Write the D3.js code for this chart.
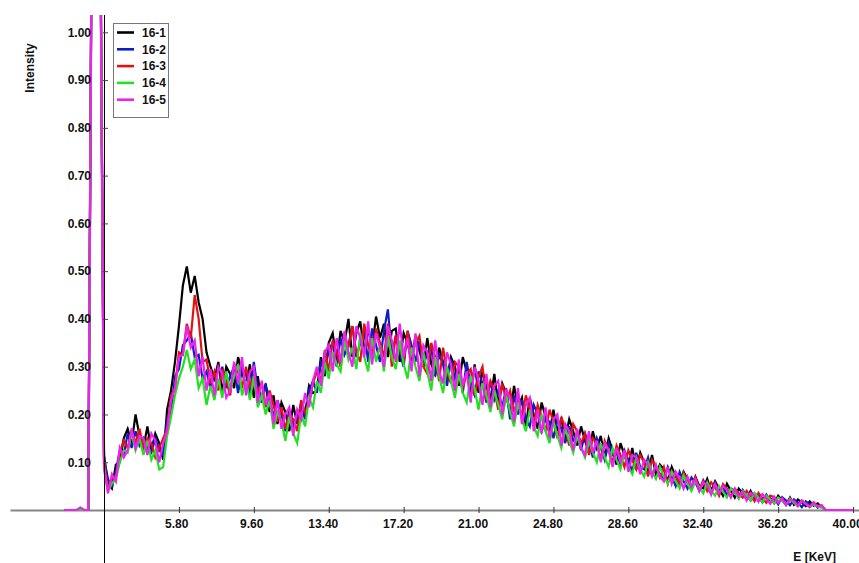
<!DOCTYPE html>
<html>
<head>
<meta charset="utf-8">
<script src="https://cdn.jsdelivr.net/npm/d3@7"></script>
<style>
  html, body { margin: 0; padding: 0; background: #ffffff; }
  svg { display: block; font-family: "Liberation Sans", Arial, Helvetica, sans-serif; font-weight: bold; }
</style>
</head>
<body>
<svg id="chart" width="859" height="563"></svg>
<script>
// Spectrum channels: 0 - 40 keV, 0.2 keV per channel (201 channels)
const energyKeV = d3.range(201).map(i => Math.round(i * 2) / 10);

const seriesNames = ["16-1", "16-2", "16-3", "16-4", "16-5"];
const seriesColors = ["#000000", "#0b1fc4", "#e31212", "#22e022", "#f020f0"];

const s16_1 = [0,0,0,0,0,0,0,
1.4,3,1.3,
0.115,0.055,0.045,0.095,0.1,0.15,0.17,0.14,0.2,0.155,
0.13,0.175,0.125,0.16,0.14,0.105,0.21,0.25,0.31,0.385,
0.47,0.51,0.455,0.49,0.435,0.4,0.33,0.3,0.275,0.31,
0.245,0.3,0.285,0.255,0.32,0.29,0.26,0.305,0.235,0.28,
0.225,0.265,0.205,0.24,0.18,0.225,0.205,0.165,0.22,0.18,
0.225,0.2,0.26,0.245,0.25,0.32,0.28,0.35,0.37,0.31,
0.375,0.35,0.4,0.32,0.37,0.395,0.33,0.38,0.34,0.405,
0.36,0.39,0.32,0.375,0.38,0.31,0.37,0.35,0.31,0.365,
0.335,0.3,0.36,0.305,0.285,0.34,0.31,0.275,0.32,0.3,
0.26,0.32,0.29,0.24,0.305,0.245,0.29,0.26,0.23,0.285,
0.22,0.265,0.245,0.2,0.26,0.215,0.235,0.175,0.235,0.2,
0.17,0.225,0.195,0.16,0.21,0.165,0.19,0.15,0.19,0.165,
0.135,0.175,0.145,0.12,0.165,0.13,0.155,0.11,0.15,0.125,
0.095,0.14,0.115,0.09,0.13,0.085,0.12,0.1,0.08,0.115,
0.075,0.095,0.085,0.06,0.09,0.07,0.055,0.08,0.065,0.045,
0.07,0.05,0.045,0.065,0.04,0.06,0.045,0.03,0.055,0.04,
0.026,0.045,0.035,0.022,0.04,0.025,0.032,0.02,0.03,0.024,
0.014,0.03,0.02,0.012,0.026,0.011,0.022,0.016,0.008,0.018,
0.009,0.014,0.006,0,0,0,0,0,0,0,0];

const s16_2 = [0,0,0,0,0,0,0,
1.4,3,1.3,
0.105,0.065,0.05,0.08,0.125,0.115,0.16,0.13,0.165,0.135,
0.15,0.13,0.12,0.15,0.125,0.115,0.19,0.205,0.28,0.295,
0.345,0.355,0.37,0.32,0.325,0.275,0.29,0.255,0.285,0.26,
0.3,0.255,0.28,0.3,0.245,0.295,0.285,0.24,0.31,0.25,
0.23,0.26,0.235,0.195,0.23,0.2,0.165,0.21,0.175,0.2,
0.215,0.19,0.25,0.27,0.245,0.31,0.29,0.335,0.35,0.3,
0.36,0.325,0.345,0.385,0.32,0.35,0.375,0.31,0.38,0.345,
0.31,0.375,0.42,0.325,0.365,0.33,0.3,0.375,0.345,0.31,
0.355,0.3,0.33,0.34,0.28,0.325,0.305,0.26,0.315,0.275,
0.295,0.245,0.31,0.26,0.24,0.29,0.265,0.225,0.27,0.23,
0.25,0.215,0.255,0.19,0.24,0.2,0.23,0.19,0.175,0.22,
0.2,0.165,0.19,0.185,0.15,0.19,0.17,0.14,0.175,0.145,
0.155,0.125,0.16,0.14,0.11,0.15,0.13,0.105,0.14,0.115,
0.12,0.095,0.125,0.105,0.08,0.12,0.09,0.085,0.11,0.075,
0.09,0.075,0.065,0.09,0.07,0.05,0.08,0.06,0.045,0.068,
0.058,0.04,0.062,0.045,0.035,0.055,0.04,0.05,0.03,0.045,
0.04,0.025,0.042,0.03,0.02,0.035,0.028,0.016,0.032,0.02,
0.025,0.012,0.027,0.02,0.01,0.022,0.015,0.006,0.018,0.012,
0.015,0.005,0.009,0,0,0,0,0,0,0,0];

const s16_3 = [0,0,0,0,0,0,0,
1.4,3,1.3,
0.1,0.045,0.065,0.07,0.12,0.145,0.13,0.165,0.14,0.17,
0.13,0.15,0.14,0.11,0.13,0.15,0.17,0.24,0.255,0.33,
0.325,0.39,0.36,0.45,0.4,0.31,0.315,0.265,0.29,0.25,
0.295,0.27,0.24,0.305,0.29,0.255,0.3,0.26,0.28,0.245,
0.265,0.215,0.25,0.22,0.185,0.215,0.17,0.2,0.19,0.165,
0.23,0.205,0.225,0.265,0.29,0.27,0.335,0.29,0.355,0.33,
0.3,0.365,0.34,0.385,0.33,0.31,0.39,0.345,0.32,0.38,
0.35,0.32,0.39,0.3,0.365,0.34,0.31,0.375,0.32,0.35,
0.365,0.3,0.285,0.35,0.32,0.27,0.34,0.29,0.265,0.31,
0.3,0.255,0.285,0.295,0.24,0.28,0.3,0.23,0.27,0.25,
0.21,0.265,0.23,0.25,0.205,0.23,0.195,0.24,0.21,0.18,
0.22,0.195,0.165,0.21,0.185,0.15,0.195,0.17,0.135,0.18,
0.165,0.14,0.16,0.115,0.15,0.14,0.105,0.145,0.125,0.1,
0.135,0.115,0.09,0.125,0.105,0.085,0.115,0.1,0.07,0.105,
0.09,0.068,0.09,0.055,0.08,0.075,0.05,0.078,0.06,0.05,
0.068,0.045,0.06,0.04,0.058,0.048,0.03,0.054,0.045,0.028,
0.045,0.035,0.026,0.04,0.03,0.018,0.036,0.025,0.015,0.03,
0.027,0.016,0.024,0.012,0.021,0.018,0.009,0.02,0.014,0.007,
0.016,0.008,0.01,0,0,0,0,0,0,0,0];

const s16_4 = [0,0,0,0,0,0,0,
1.4,3,1.3,
0.085,0.04,0.055,0.065,0.1,0.125,0.12,0.16,0.125,0.15,
0.115,0.145,0.105,0.125,0.085,0.09,0.155,0.195,0.24,0.275,
0.3,0.335,0.295,0.315,0.255,0.275,0.22,0.26,0.23,0.275,
0.235,0.29,0.25,0.28,0.305,0.24,0.27,0.23,0.28,0.215,
0.24,0.2,0.23,0.17,0.205,0.185,0.145,0.195,0.16,0.14,
0.2,0.175,0.235,0.215,0.27,0.245,0.31,0.275,0.33,0.305,
0.29,0.355,0.315,0.34,0.295,0.37,0.32,0.29,0.36,0.31,
0.345,0.29,0.365,0.32,0.295,0.355,0.305,0.275,0.34,0.3,
0.27,0.33,0.29,0.25,0.32,0.28,0.245,0.3,0.27,0.235,
0.285,0.245,0.225,0.28,0.255,0.21,0.265,0.24,0.205,0.25,
0.22,0.19,0.24,0.205,0.175,0.225,0.19,0.165,0.21,0.175,
0.155,0.2,0.165,0.14,0.185,0.155,0.13,0.17,0.145,0.12,
0.155,0.13,0.11,0.145,0.12,0.1,0.14,0.11,0.09,0.13,
0.105,0.085,0.12,0.09,0.075,0.11,0.085,0.07,0.1,0.08,
0.065,0.09,0.07,0.055,0.08,0.06,0.045,0.072,0.055,0.04,
0.06,0.048,0.035,0.058,0.04,0.03,0.05,0.038,0.026,0.045,
0.036,0.024,0.04,0.03,0.02,0.035,0.026,0.016,0.03,0.022,
0.014,0.026,0.02,0.01,0.024,0.015,0.008,0.019,0.013,0.006,
0.012,0.007,0.005,0,0,0,0,0,0,0,0];

const s16_5 = [0,0,0,0,0.005,0,0,
1.4,3,1.3,
0.09,0.035,0.075,0.06,0.13,0.11,0.125,0.17,0.13,0.155,
0.15,0.115,0.16,0.145,0.1,0.14,0.165,0.23,0.255,0.32,
0.325,0.385,0.34,0.355,0.28,0.32,0.25,0.295,0.24,0.3,
0.285,0.235,0.25,0.31,0.265,0.32,0.24,0.29,0.3,0.225,
0.27,0.22,0.245,0.18,0.23,0.17,0.2,0.215,0.155,0.21,
0.19,0.245,0.215,0.27,0.3,0.26,0.33,0.345,0.29,0.36,
0.31,0.375,0.33,0.3,0.385,0.36,0.32,0.395,0.305,0.37,
0.34,0.3,0.385,0.355,0.31,0.39,0.32,0.36,0.29,0.37,
0.28,0.345,0.33,0.27,0.355,0.29,0.265,0.33,0.305,0.25,
0.315,0.26,0.29,0.225,0.3,0.27,0.22,0.285,0.215,0.26,
0.27,0.2,0.25,0.235,0.185,0.255,0.18,0.22,0.235,0.165,
0.21,0.16,0.215,0.15,0.19,0.2,0.135,0.18,0.165,0.125,
0.17,0.13,0.115,0.165,0.12,0.145,0.1,0.14,0.125,0.09,
0.13,0.1,0.125,0.08,0.115,0.11,0.075,0.105,0.095,0.07,
0.095,0.07,0.06,0.09,0.055,0.08,0.065,0.045,0.07,0.05,
0.065,0.04,0.058,0.052,0.032,0.055,0.035,0.05,0.042,0.026,
0.044,0.028,0.038,0.02,0.036,0.03,0.017,0.033,0.024,0.013,
0.028,0.015,0.024,0.01,0.022,0.019,0.008,0.02,0.013,0.006,
0.016,0.007,0.01,0,0,0,0,0,0,0,0];

const seriesValues = [s16_1, s16_2, s16_3, s16_4, s16_5];

const xTickValues = [5.8, 9.6, 13.4, 17.2, 21.0, 24.8, 28.6, 32.4, 36.2, 40.0];
const yTickValues = [0.1, 0.2, 0.3, 0.4, 0.5, 0.6, 0.7, 0.8, 0.9, 1.0];

const xTitle = "E [KeV]";
const yTitle = "Intensity";

// ---- layout ----
const svg = d3.select("#chart");
const W = 859, H = 563;
const axisX = 104;          // vertical axis position (at 2.0 keV)
const plotTop = 15;

const x = d3.scaleLinear().domain([-2.77, 40.3]).range([10, 859]);
const y = d3.scaleLinear().domain([0, 1]).range([510, 32.3]);

svg.append("rect").attr("width", W).attr("height", H).attr("fill", "#fff");

svg.append("defs").append("clipPath").attr("id", "plotClip")
  .append("rect").attr("x", 0).attr("y", plotTop).attr("width", W).attr("height", H - plotTop);

// ---- horizontal axis ----
const xAxis = d3.axisBottom(x)
  .tickValues(xTickValues)
  .tickFormat(d3.format(".2f"))
  .tickSizeInner(3)
  .tickSizeOuter(0)
  .tickPadding(6);

const gx = svg.append("g").attr("transform", `translate(0,${y(0)})`).call(xAxis);
gx.select(".domain").attr("stroke", "#858585").attr("stroke-width", 2);
gx.selectAll(".tick line").attr("stroke", "#333").attr("y1", -3).attr("y2", 3);
gx.selectAll(".tick text")
  .attr("font-size", 12)
  .attr("font-weight", "bold")
  .attr("font-family", "'Liberation Sans', Arial, sans-serif")
  .attr("fill", "#111")
  .attr("text-anchor", "end")
  .attr("dx", 9)
  .attr("y", 17.5)
  .attr("dy", 0);

// ---- vertical axis ----
const yAxis = d3.axisLeft(y)
  .tickValues(yTickValues)
  .tickFormat(d3.format(".2f"))
  .tickSizeInner(0)
  .tickSizeOuter(0)
  .tickPadding(13);

const gy = svg.append("g").attr("transform", `translate(${axisX},0)`).call(yAxis);
gy.select(".domain").remove();
gy.selectAll(".tick text")
  .attr("font-size", 12)
  .attr("font-weight", "bold")
  .attr("font-family", "'Liberation Sans', Arial, sans-serif")
  .attr("fill", "#111");

// ---- spectra ----
const line = d3.line()
  .x((d, i) => x(energyKeV[i]))
  .y(d => y(d));

const gLines = svg.append("g").attr("clip-path", "url(#plotClip)");
seriesValues.forEach((vals, k) => {
  gLines.append("path")
    .datum(vals)
    .attr("fill", "none")
    .attr("stroke", seriesColors[k])
    .attr("stroke-width", 2.2)
    .attr("stroke-linejoin", "miter")
    .attr("d", line);
});

// vertical axis line and its tick marks drawn over the spectra
svg.append("line")
  .attr("x1", axisX + 0.5).attr("x2", axisX + 0.5)
  .attr("y1", plotTop).attr("y2", H)
  .attr("stroke", "#000").attr("stroke-width", 1);
gy.raise();
gy.selectAll(".tick").append("line")
  .attr("x1", -1).attr("x2", 4)
  .attr("stroke", "#444").attr("stroke-width", 1);

// ---- titles ----
svg.append("text")
  .attr("transform", "translate(34,68) rotate(-90)")
  .attr("text-anchor", "middle")
  .attr("font-size", 12)
  .attr("fill", "#111")
  .text(yTitle);

svg.append("text")
  .attr("x", 836).attr("y", 561)
  .attr("text-anchor", "end")
  .attr("font-size", 12)
  .attr("fill", "#111")
  .text(xTitle);

// ---- legend ----
const legend = svg.append("g").attr("transform", "translate(113,23)");
legend.append("rect")
  .attr("x", 0.5).attr("y", 0.5)
  .attr("width", 55).attr("height", 94)
  .attr("fill", "#fff").attr("stroke", "#777").attr("stroke-width", 1);

seriesNames.forEach((name, k) => {
  const rowY = 9.5 + k * 16.8;
  legend.append("line")
    .attr("x1", 4).attr("x2", 21)
    .attr("y1", rowY).attr("y2", rowY)
    .attr("stroke", seriesColors[k]).attr("stroke-width", 2.6);
  legend.append("text")
    .attr("x", 29).attr("y", rowY + 4.3)
    .attr("font-size", 12)
    .attr("fill", "#111")
    .text(name);
});
</script>
</body>
</html>
